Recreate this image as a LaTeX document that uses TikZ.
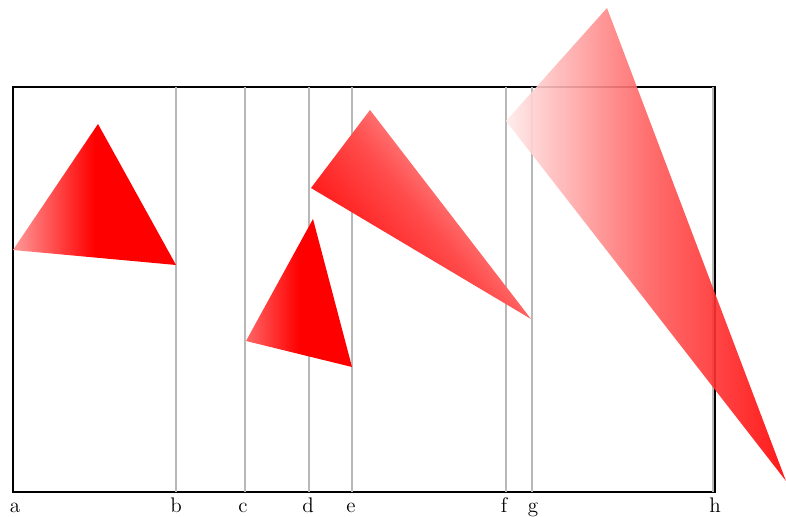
\documentclass[tikz,border=0pt]{standalone}

\begin{document}
\begin{tikzpicture}[
  frame/.style  = {draw, line width=1.3pt},
  guide/.style  = {draw=black!28, line width=1pt},
  tick/.style   = {anchor=base, font=\large, inner sep=0pt},
  wedge/.style  = {shading=axis},
  flat/.style   = {wedge, left color=red!40, right color=red, middle color=red},
  flatter/.style = {wedge, left color=red!60, right color=red, middle color=red},
  tilt/.style   = {wedge, top color=red!20, bottom color=red, middle color=red!70,
                   shading angle=-50},
  ghost/.style  = {wedge, left color=red!8, right color=red, middle color=red!62,
                   fill opacity=0.9},
]
  \useasboundingbox (0,0) rectangle (15.72,10.34);

  % the frame and the vertical guides
  \draw[frame] (0.26,0.50) rectangle (14.30,8.60);

  \coordinate (b top) at (3.52,8.60);  \coordinate (b bot) at (3.52,0.50);
  \coordinate (c top) at (4.90,8.60);  \coordinate (c bot) at (4.90,0.50);
  \coordinate (d top) at (6.18,8.60);  \coordinate (d bot) at (6.18,0.50);
  \coordinate (e top) at (7.04,8.60);  \coordinate (e bot) at (7.04,0.50);
  \coordinate (f top) at (10.12,8.60); \coordinate (f bot) at (10.12,0.50);
  \coordinate (g top) at (10.64,8.60); \coordinate (g bot) at (10.64,0.50);
  \coordinate (h top) at (14.26,8.60); \coordinate (h bot) at (14.26,0.50);

  \draw[guide] (b top) -- (b bot);
  \draw[guide] (c top) -- (c bot);
  \draw[guide] (d top) -- (d bot);
  \draw[guide] (e top) -- (e bot);
  \draw[guide] (f top) -- (f bot);
  \draw[guide] (g top) -- (g bot);
  \draw[guide] (h top) -- (h bot);

  \node[tick] (a) at (0.30,0.08) {a};
  \node[tick] (b) at (3.52,0.08) {b};
  \node[tick] (c) at (4.86,0.08) {c};
  \node[tick] (d) at (6.16,0.08) {d};
  \node[tick] (e) at (7.02,0.08) {e};
  \node[tick] (f) at (10.08,0.08) {f};
  \node[tick] (g) at (10.66,0.08) {g};
  \node[tick] (h) at (14.30,0.08) {h};

  % the triangles
  \shade[flat] (0.26,5.34) -- (1.96,7.86) -- (3.52,5.04) -- cycle;
  \shade[flatter] (4.92,3.52) -- (6.26,5.96) -- (7.04,3.00) -- cycle;
  \shade[tilt] (6.22,6.58) -- (7.40,8.14) -- (10.62,3.96) -- cycle;
  \shade[ghost] (10.12,7.92) -- (12.14,10.18) -- (15.72,0.72) -- cycle;
\end{tikzpicture}
\end{document}
